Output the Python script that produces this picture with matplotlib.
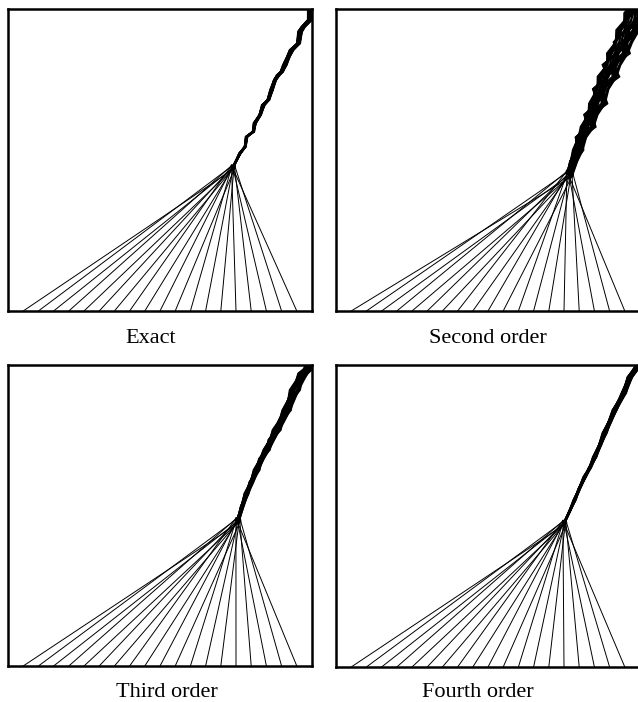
import matplotlib.pyplot as plt
import numpy as np

titles = ['Exact', 'Second order', 'Third order', 'Fourth order']

# rays start on the bottom edge
start_x = [0.05, 0.10, 0.15, 0.20, 0.25, 0.30, 0.35, 0.40, 0.45, 0.50,
           0.55, 0.60, 0.65, 0.70, 0.75, 0.80, 0.85, 0.90, 0.95]

# per-ray lateral spread (normalised) and how strongly each ray zigzags
spread = [-1.0, 0.6, -0.3, 0.9, -0.7, 0.2, -0.5, 1.0, -0.1, 0.4,
          -0.9, 0.7, 0.0, -0.4, 0.8, -0.6, 0.3, -0.8, 0.5]
wobble = [0.8, -0.3, 0.5, -0.9, 0.2, 0.7, -0.6, 0.1, 0.9, -0.4,
          0.6, -0.2, 0.4, -0.8, 0.3, 0.7, -0.5, 0.2, -0.7]

# common path after the rays meet
exact_x = [0.741, 0.752, 0.763, 0.780, 0.785, 0.807, 0.812, 0.829, 0.840, 0.856, 0.867,
           0.878, 0.889, 0.900, 0.911, 0.922, 0.933, 0.955, 0.961, 0.971, 0.993, 0.993]
exact_y = [0.478, 0.500, 0.522, 0.544, 0.577, 0.594, 0.622, 0.649, 0.682, 0.699, 0.732,
           0.765, 0.781, 0.792, 0.815, 0.842, 0.864, 0.886, 0.925, 0.941, 0.964, 0.997]
exact_jag = [0, 0.2, -0.3, 0.4, -0.2, 0.5, -0.4, 0.3, -0.5, 0.4, -0.3,
             0.5, -0.2, 0.4, -0.5, 0.3, -0.4, 0.5, -0.3, 0.2, -0.1, 0]

second_x = [0.769, 0.780, 0.797, 0.805, 0.830, 0.838, 0.863, 0.870,
            0.897, 0.905, 0.930, 0.940, 0.963, 0.975, 0.990, 1.000]
second_y = [0.456, 0.495, 0.533, 0.575, 0.610, 0.650, 0.687, 0.735,
            0.776, 0.815, 0.853, 0.890, 0.930, 0.960, 0.986, 1.000]
second_jag = [0, 0.3, -0.2, 0.6, -0.4, 0.8, -0.5, 0.9,
              -0.6, 1.0, -0.5, 0.8, -0.4, 0.6, -0.2, 0]

third_x = [0.757, 0.770, 0.785, 0.800, 0.818, 0.833, 0.851, 0.866, 0.884,
           0.900, 0.917, 0.930, 0.944, 0.958, 0.971, 0.985, 0.995]
third_y = [0.485, 0.530, 0.573, 0.610, 0.651, 0.688, 0.718, 0.752, 0.784,
           0.818, 0.850, 0.885, 0.917, 0.948, 0.972, 0.985, 0.998]
third_jag = [0, 0.4, -0.3, 0.6, -0.5, 0.7, -0.4, 0.8, -0.6,
             0.7, -0.5, 0.6, -0.7, 0.5, -0.3, 0.2, 0]

fourth_x = [0.752, 0.768, 0.785, 0.800, 0.818, 0.835, 0.851, 0.868, 0.884,
            0.900, 0.917, 0.932, 0.947, 0.957, 0.967, 0.980, 0.992]
fourth_y = [0.480, 0.515, 0.553, 0.590, 0.629, 0.660, 0.695, 0.735, 0.775,
            0.812, 0.851, 0.880, 0.907, 0.935, 0.960, 0.978, 0.995]
fourth_jag = [0, 0.3, -0.4, 0.5, -0.3, 0.6, -0.5, 0.4, -0.6,
              0.5, -0.4, 0.6, -0.3, 0.5, -0.2, 0.1, 0]

# path, jag, band half-width, zigzag size, scatter of the meeting points, line width on the path
paths = [(exact_x, exact_y, exact_jag, 0.007, 0.004, 0.007, 1.2),
         (second_x, second_y, second_jag, 0.04, 0.02, 0.012, 1.7),
         (third_x, third_y, third_jag, 0.016, 0.008, 0.009, 1.3),
         (fourth_x, fourth_y, fourth_jag, 0.009, 0.005, 0.007, 1.1)]

W, H = 638, 702
fig = plt.figure(figsize=(W / 100, H / 100), dpi=100)

# panel boxes in pixels: left, top, width, height
boxes = [(8, 9, 304, 302), (336, 9, 304, 302), (8, 365, 304, 301), (336, 365, 304, 302)]
label_pos = [(151, 343), (488, 343), (167, 697), (478, 697)]

for k in range(4):
    l, t, w, h = boxes[k]
    ax = fig.add_axes([l / W, 1 - (t + h) / H, w / W, h / H])
    px, py, jag, width, jamp, jw, tlw = paths[k]
    px = np.array(px)
    py = np.array(py)
    jag = np.array(jag)
    taper = np.linspace(0.25, 1.0, len(px))
    for i in range(len(start_x)):
        off = width * spread[i] * taper + jamp * wobble[i] * jag
        # rays land a little apart, across their direction of travel
        dx = px[0] - start_x[i]
        dy = py[0]
        n = np.hypot(dx, dy)
        s = jw * spread[i]
        mx = px[0] - s * dy / n
        my = py[0] + s * dx / n
        ax.plot([start_x[i], mx], [0.0, my], color='black', lw=0.7)
        ax.plot(np.concatenate([[mx], px + off]), np.concatenate([[my], py]),
                color='black', lw=tlw, solid_joinstyle='miter')
    ax.set_xlim(0, 1)
    ax.set_ylim(0, 1)
    ax.set_xticks([])
    ax.set_yticks([])
    for s in ax.spines.values():
        s.set_linewidth(1.8)
    lx, ly = label_pos[k]
    fig.text(lx / W, 1 - ly / H, titles[k], ha='center', va='baseline',
             fontsize=16, family='Liberation Serif')

plt.savefig('out.png', dpi=100)
